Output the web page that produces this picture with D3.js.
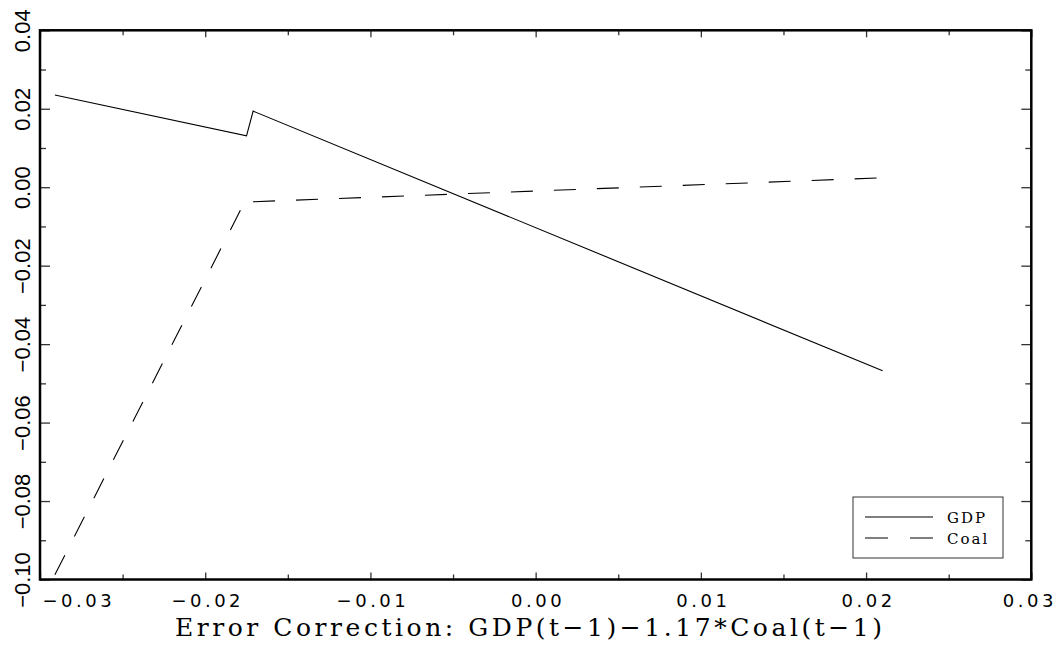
<!DOCTYPE html>
<html>
<head>
<meta charset="utf-8">
<script src="https://cdn.jsdelivr.net/npm/d3@7"></script>
<style>
  body { margin: 0; background: #fff; }
  svg { display: block; }
  .tick line { stroke: #333; stroke-width: 1.3; }
  .domain { display: none; }
</style>
</head>
<body>
<div id="chart"></div>
<script>
// error correction term (x) and response of each series
var ecX = [-0.0291, -0.0175, -0.0171, 0.0210];
var gdpVals = [0.0235, 0.0131, 0.0194, -0.0468];
var coalVals = [-0.0988, -0.0028, -0.0037, 0.0024];

var seriesNames = ["GDP", "Coal"];

var xTicks = [-0.03, -0.02, -0.01, 0.00, 0.01, 0.02, 0.03];
var xMinor = [-0.025, -0.015, -0.005, 0.005, 0.015, 0.025];
var yTicks = [-0.10, -0.08, -0.06, -0.04, -0.02, 0.00, 0.02, 0.04];
var yMinor = [-0.09, -0.07, -0.05, -0.03, -0.01, 0.01, 0.03];

var xTitle = "Error Correction: GDP(t\u22121)\u22121.17*Coal(t\u22121)";

var width = 1060, height = 648;
var plot = { left: 40, right: 1031.3, top: 30.3, bottom: 579.5 };

var svg = d3.select("#chart").append("svg")
    .attr("width", width)
    .attr("height", height);

var x = d3.scaleLinear().domain([-0.03, 0.03]).range([plot.left, plot.right]);
var y = d3.scaleLinear().domain([-0.10, 0.04]).range([plot.bottom, plot.top]);
var fmt = d3.format(".2f");

// bottom axis, ticks point inward
var xAxis = svg.append("g")
    .attr("transform", "translate(0," + plot.bottom + ")")
    .call(d3.axisBottom(x).tickValues(xTicks).tickSizeInner(-7).tickSizeOuter(0).tickFormat(fmt));
xAxis.selectAll("text")
    .attr("y", 27)
    .attr("dy", 0)
    .attr("dx", 2)
    .style("font-family", "'DejaVu Sans', sans-serif")
    .style("font-size", "18px")
    .style("letter-spacing", "3.5px")
    .attr("fill", "#000");
// end labels kept inside the page
xAxis.selectAll("text").filter(function(d) { return d === xTicks[0]; })
    .attr("text-anchor", "start")
    .attr("dx", 2);
xAxis.selectAll("text").filter(function(d) { return d === xTicks[xTicks.length - 1]; })
    .attr("dx", -2);

svg.append("g")
    .attr("transform", "translate(0," + plot.bottom + ")")
    .call(d3.axisBottom(x).tickValues(xMinor).tickSizeInner(-5).tickSizeOuter(0).tickFormat(""));

// top axis mirror
svg.append("g")
    .attr("transform", "translate(0," + plot.top + ")")
    .call(d3.axisTop(x).tickValues(xTicks).tickSizeInner(-7).tickSizeOuter(0).tickFormat(""));
svg.append("g")
    .attr("transform", "translate(0," + plot.top + ")")
    .call(d3.axisTop(x).tickValues(xMinor).tickSizeInner(-5).tickSizeOuter(0).tickFormat(""));

// left axis, rotated labels
var yAxis = svg.append("g")
    .attr("transform", "translate(" + plot.left + ",0)")
    .call(d3.axisLeft(y).tickValues(yTicks).tickSizeInner(-10).tickSizeOuter(0).tickFormat(fmt));
yAxis.selectAll("text")
    .attr("x", 0)
    .attr("y", -10)
    .attr("dy", 0)
    .attr("transform", "rotate(-90)")
    .attr("text-anchor", "middle")
    .style("font-family", "'Liberation Sans', Arial, sans-serif")
    .style("font-size", "22px")
    .attr("fill", "#000");

svg.append("g")
    .attr("transform", "translate(" + plot.left + ",0)")
    .call(d3.axisLeft(y).tickValues(yMinor).tickSizeInner(-6).tickSizeOuter(0).tickFormat(""));

// right axis mirror
svg.append("g")
    .attr("transform", "translate(" + plot.right + ",0)")
    .call(d3.axisRight(y).tickValues(yTicks).tickSizeInner(-10).tickSizeOuter(0).tickFormat(""));
svg.append("g")
    .attr("transform", "translate(" + plot.right + ",0)")
    .call(d3.axisRight(y).tickValues(yMinor).tickSizeInner(-6).tickSizeOuter(0).tickFormat(""));

// frame
svg.append("rect")
    .attr("x", plot.left)
    .attr("y", plot.top)
    .attr("width", plot.right - plot.left)
    .attr("height", plot.bottom - plot.top)
    .attr("fill", "none")
    .attr("stroke", "#000")
    .attr("stroke-width", 2.5);

var line = d3.line()
    .x(function(d) { return x(d[0]); })
    .y(function(d) { return y(d[1]); });

svg.append("path")
    .datum(d3.zip(ecX, gdpVals))
    .attr("d", line)
    .attr("fill", "none")
    .attr("stroke", "#000")
    .attr("stroke-width", 1.1);

svg.append("path")
    .datum(d3.zip(ecX, coalVals))
    .attr("d", line)
    .attr("fill", "none")
    .attr("stroke", "#000")
    .attr("stroke-width", 1.1)
    .attr("stroke-dasharray", "22,21");

// axis title
svg.append("text")
    .attr("x", 175)
    .attr("y", 636)
    .attr("textLength", 707)
    .attr("lengthAdjust", "spacing")
    .style("font-family", "'DejaVu Serif', serif")
    .style("font-size", "25px")
    .text(xTitle);

// legend
var legend = svg.append("g");
legend.append("rect")
    .attr("x", 853)
    .attr("y", 497)
    .attr("width", 150)
    .attr("height", 61)
    .attr("fill", "#fff")
    .attr("stroke", "#333")
    .attr("stroke-width", 1);

var dashes = [null, "23,22"];
seriesNames.forEach(function(name, i) {
    var ly = 517 + i * 21;
    legend.append("line")
        .attr("x1", 865).attr("x2", 933)
        .attr("y1", ly).attr("y2", ly)
        .attr("stroke", "#000")
        .attr("stroke-width", 1.1)
        .attr("stroke-dasharray", dashes[i]);
    legend.append("text")
        .attr("x", 947)
        .attr("y", ly + 6)
        .style("font-family", "'DejaVu Serif', serif")
        .style("font-size", "15px")
        .style("letter-spacing", "2px")
        .text(name);
});
</script>
</body>
</html>
